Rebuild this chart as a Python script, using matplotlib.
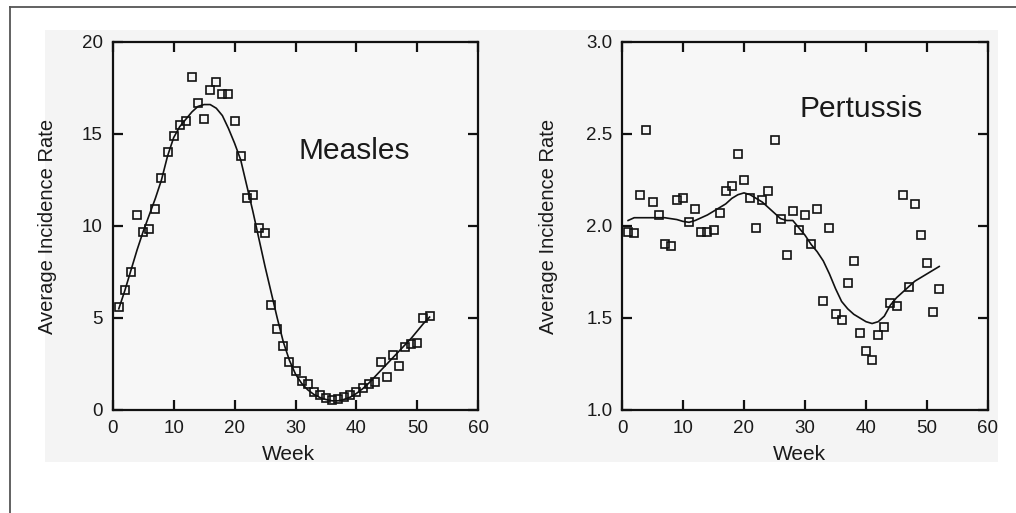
import matplotlib
matplotlib.use("Agg")
import matplotlib.pyplot as plt
from matplotlib.patches import Rectangle
from matplotlib.lines import Line2D

plt.rcParams['font.family'] = ['Liberation Sans', 'DejaVu Sans']

weeks = list(range(1, 53))

measles_obs = [5.6, 6.5, 7.5, 10.6, 9.7, 9.85, 10.9, 12.6, 14.0, 14.9,
               15.5, 15.7, 18.1, 16.7, 15.8, 17.4, 17.8, 17.2, 17.2, 15.7,
               13.8, 11.5, 11.7, 9.9, 9.6, 5.7, 4.4, 3.5, 2.6, 2.1,
               1.55, 1.4, 1.0, 0.8, 0.63, 0.54, 0.58, 0.72, 0.8, 1.0,
               1.18, 1.4, 1.5, 2.6, 1.8, 3.0, 2.4, 3.4, 3.6, 3.65,
               5.0, 5.1]
measles_fit = [5.5, 6.5, 7.6, 8.7, 9.7, 10.6, 11.5, 12.5, 13.8, 14.8,
               15.4, 15.8, 16.2, 16.5, 16.6, 16.6, 16.4, 16.0, 15.3, 14.5,
               13.6, 12.2, 10.8, 9.3, 7.8, 6.4, 5.0, 3.7, 2.7, 1.95,
               1.45, 1.1, 0.85, 0.68, 0.57, 0.5, 0.5, 0.58, 0.7, 0.9,
               1.15, 1.45, 1.8, 2.15, 2.5, 2.85, 3.2, 3.55, 3.9, 4.3,
               4.7, 5.05]

pertussis_obs = [1.97, 1.96, 2.17, 2.52, 2.13, 2.06, 1.90, 1.89, 2.14, 2.15,
                 2.02, 2.09, 1.97, 1.965, 1.98, 2.07, 2.19, 2.22, 2.39, 2.25,
                 2.15, 1.99, 2.14, 2.19, 2.47, 2.04, 1.84, 2.08, 1.98, 2.06,
                 1.90, 2.09, 1.59, 1.99, 1.52, 1.49, 1.69, 1.81, 1.42, 1.32,
                 1.27, 1.41, 1.45, 1.58, 1.565, 2.17, 1.67, 2.12, 1.95, 1.80,
                 1.53, 1.66]
pertussis_fit = [2.03, 2.045, 2.045, 2.045, 2.045, 2.045, 2.045, 2.04, 2.035, 2.025,
                 2.02, 2.03, 2.045, 2.06, 2.08, 2.10, 2.12, 2.15, 2.17, 2.18,
                 2.17, 2.15, 2.13, 2.10, 2.07, 2.04, 2.03, 2.03, 1.99, 1.95,
                 1.90, 1.86, 1.81, 1.74, 1.66, 1.59, 1.55, 1.52, 1.50, 1.48,
                 1.47, 1.48, 1.51, 1.57, 1.61, 1.64, 1.67, 1.70, 1.72, 1.74,
                 1.76, 1.78]

measles_yticks = [0, 5, 10, 15, 20]
measles_yticklabels = ['0', '5', '10', '15', '20']
pertussis_yticks = [1.0, 1.5, 2.0, 2.5, 3.0]
pertussis_yticklabels = ['1.0', '1.5', '2.0', '2.5', '3.0']
xticks = [0, 10, 20, 30, 40, 50, 60]
xticklabels = ['0', '10', '20', '30', '40', '50', '60']

W, H = 1016, 513
fig = plt.figure(figsize=(W / 100, H / 100), dpi=100)
fig.patch.set_facecolor('white')

# light gray panel behind the charts
fig.patches.append(Rectangle((45 / W, 1 - 462 / H), (998 - 45) / W, (462 - 30) / H,
                             transform=fig.transFigure, facecolor='#f4f4f4',
                             edgecolor='none', zorder=-5))
# outer frame lines (left and top)
fig.lines.append(Line2D([10 / W, 10 / W], [0, 1 - 7 / H], transform=fig.transFigure,
                        color='#555555', lw=1.3, zorder=-4))
fig.lines.append(Line2D([10 / W, 1], [1 - 7 / H, 1 - 7 / H], transform=fig.transFigure,
                        color='#555555', lw=1.3, zorder=-4))

ax_h = (410 - 42) / H
ax_b = 1 - 410 / H
ax1 = fig.add_axes([112.7 / W, ax_b, 365.6 / W, ax_h])
ax2 = fig.add_axes([622 / W, ax_b, 366 / W, ax_h])

txt_color = '#1a1a1a'

def style(ax, yticks, yticklabels, ylim, ylab_x, week_x):
    ax.set_facecolor('#f7f7f7')
    ax.set_xlim(0, 60)
    ax.set_ylim(*ylim)
    ax.set_xticks(xticks)
    ax.set_xticklabels(xticklabels)
    ax.set_yticks(yticks)
    ax.set_yticklabels(yticklabels)
    for s in ax.spines.values():
        s.set_linewidth(1.6)
        s.set_color('#111111')
    ax.tick_params(axis='both', which='major', direction='in', length=7.5, width=1.6,
                   top=True, right=True, labelsize=13.5, colors='#111111',
                   labelcolor=txt_color)
    ax.tick_params(axis='x', pad=7)
    ax.tick_params(axis='y', pad=7)
    ax.set_xlabel('Week', fontsize=15, color=txt_color)
    ax.xaxis.set_label_coords(week_x, -0.095)
    ax.xaxis.label.set_va('top')
    ax.set_ylabel('Average Incidence Rate', fontsize=14.5, color=txt_color)
    ax.yaxis.set_label_coords(ylab_x, 0.5)

style(ax1, measles_yticks, measles_yticklabels, (0, 20), -0.152, 0.48)
style(ax2, pertussis_yticks, pertussis_yticklabels, (1.0, 3.0), -0.175, 0.486)

mk = dict(linestyle='none', marker='s', markersize=6, markerfacecolor='none',
          markeredgecolor='#111111', markeredgewidth=1.2, clip_on=False, zorder=3)

ax1.plot(weeks, measles_fit, color='#111111', lw=1.2, zorder=2)
ax1.plot(weeks, measles_obs, **mk)
ax2.plot(weeks, pertussis_fit, color='#111111', lw=1.2, zorder=2)
ax2.plot(weeks, pertussis_obs, **mk)

ax1.text(0.507, 0.682, 'Measles', transform=ax1.transAxes, fontsize=21.5,
         ha='left', va='baseline', color=txt_color)
ax2.text(0.486, 0.797, 'Pertussis', transform=ax2.transAxes, fontsize=21.5,
         ha='left', va='baseline', color=txt_color)

fig.savefig('out.png', dpi=100)
